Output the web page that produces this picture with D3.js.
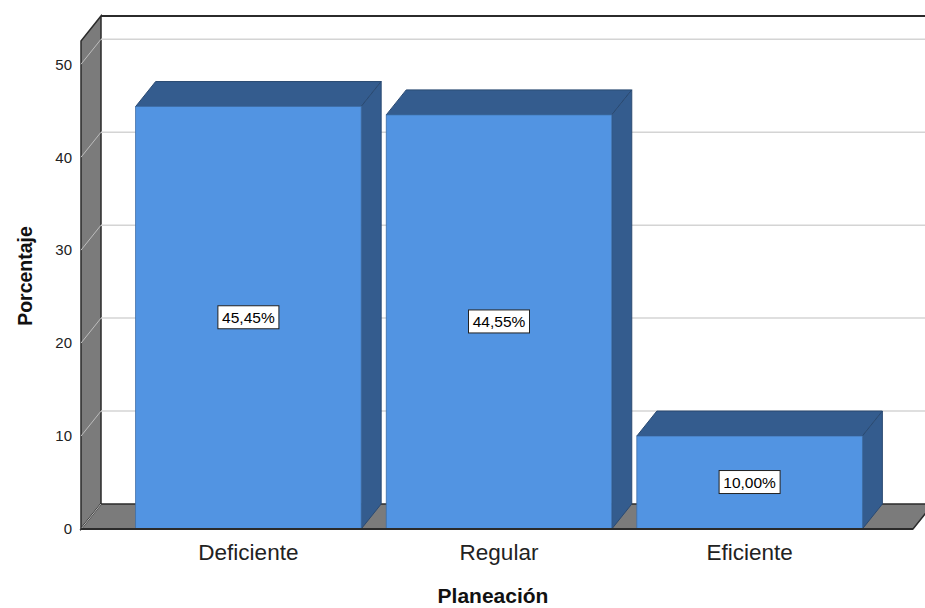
<!DOCTYPE html>
<html lang="es">
<head>
<meta charset="UTF-8">
<title>Planeación</title>
<style>
    body { margin: 0; background: #fff; font-family: Arial, "Liberation Sans", sans-serif; }
    svg { display: block; }
</style>
</head>
<body>
<svg width="925" height="608"></svg>
<script src="https://d3js.org/d3.v7.min.js"></script>
<script>
    const categories = ["Deficiente", "Regular", "Eficiente"];
    const values = [45.45, 44.55, 10.00];
    const valueLabels = ["45,45%", "44,55%", "10,00%"];
    const yTicks = [0, 10, 20, 30, 40, 50];

    const svg = d3.select("svg");
    const dx = 20, dy = -25;   // profundidad 3D

    const x = d3.scaleBand().domain(categories).range([83, 915])
        .paddingInner(0.1).paddingOuter(0.21);
    const y = d3.scaleLinear().domain([0, 52.5]).range([529, 41]);

    const x0 = 81, x1 = 913;
    const y0 = y(0), yTop = y(52.5);
    const wallFill = "#7b7b7b", edge = "#2b2b2b";

    // pared del fondo: borde superior
    svg.append("line")
        .attr("x1", x0 + dx).attr("y1", yTop + dy).attr("x2", 925).attr("y2", yTop + dy)
        .attr("stroke", edge).attr("stroke-width", 2);

    // pared izquierda
    svg.append("path")
        .attr("d", `M${x0},${y0}L${x0},${yTop}L${x0 + dx},${yTop + dy}L${x0 + dx},${y0 + dy}Z`)
        .attr("fill", wallFill).attr("stroke", edge).attr("stroke-width", 1.5);

    // piso
    svg.append("path")
        .attr("d", `M${x0},${y0}L${x1},${y0}L${x1 + dx},${y0 + dy}L${x0 + dx},${y0 + dy}Z`)
        .attr("fill", wallFill).attr("stroke", edge).attr("stroke-width", 1.5);

    // líneas de cuadrícula
    const grid = svg.append("g");
    yTicks.filter(d => d > 0).forEach(d => {
        grid.append("line")
            .attr("x1", x0 + dx).attr("y1", y(d) + dy).attr("x2", 925).attr("y2", y(d) + dy)
            .attr("stroke", "#d4d4d4").attr("stroke-width", 1.5);
        grid.append("line")
            .attr("x1", x0).attr("y1", y(d)).attr("x2", x0 + dx).attr("y2", y(d) + dy)
            .attr("stroke", "#bdbdbd").attr("stroke-width", 1);
    });
    svg.append("line")
        .attr("x1", x0).attr("y1", y0).attr("x2", x0 + dx).attr("y2", y0 + dy)
        .attr("stroke", "#bdbdbd").attr("stroke-width", 1);

    // eje y
    const gY = svg.append("g")
        .attr("transform", `translate(${x0},0)`)
        .call(d3.axisLeft(y).tickValues(yTicks).tickSize(0).tickPadding(9));
    gY.select(".domain").remove();
    gY.selectAll("text").attr("font-size", 15).attr("font-family", "Arial").attr("fill", "#222");

    // barras
    const bars = svg.append("g").selectAll("g").data(categories).join("g");
    const bw = x.bandwidth();
    bars.append("path")
        .attr("d", (c, i) => {
            const l = x(c), t = y(values[i]);
            return `M${l},${t}L${l + dx},${t + dy}L${l + bw + dx},${t + dy}L${l + bw},${t}Z`;
        })
        .attr("fill", "#345c8e").attr("stroke", "#2a4a72").attr("stroke-width", 1);
    bars.append("path")
        .attr("d", (c, i) => {
            const r = x(c) + bw, t = y(values[i]);
            return `M${r},${t}L${r + dx},${t + dy}L${r + dx},${y0 + dy}L${r},${y0}Z`;
        })
        .attr("fill", "#345c8e").attr("stroke", "#2a4a72").attr("stroke-width", 1);
    bars.append("rect")
        .attr("x", c => x(c)).attr("y", (c, i) => y(values[i]))
        .attr("width", bw).attr("height", (c, i) => y0 - y(values[i]))
        .attr("fill", "#5294e2").attr("stroke", "#3f6fa8").attr("stroke-width", 0.8);

    // base frontal
    svg.append("line")
        .attr("x1", x0).attr("y1", y0).attr("x2", x1).attr("y2", y0)
        .attr("stroke", edge).attr("stroke-width", 2);

    // etiquetas de valor
    const lab = bars.append("g")
        .attr("transform", (c, i) => `translate(${x(c) + bw / 2},${y(values[i] / 2)})`);
    lab.append("rect")
        .attr("x", -30.5).attr("y", -12).attr("width", 61).attr("height", 23)
        .attr("fill", "#fff").attr("stroke", "#222").attr("stroke-width", 1);
    lab.append("text")
        .attr("text-anchor", "middle").attr("dy", "0.33em")
        .attr("font-size", 15.5).attr("fill", "#000")
        .text((c, i) => valueLabels[i]);

    // eje x: categorías
    svg.append("g").selectAll("text").data(categories).join("text")
        .attr("x", c => x(c) + bw / 2).attr("y", 560)
        .attr("text-anchor", "middle").attr("font-size", 22.5).attr("fill", "#222")
        .text(c => c);

    // títulos
    svg.append("text")
        .attr("x", 493).attr("y", 603).attr("text-anchor", "middle")
        .attr("font-size", 21).attr("font-weight", "bold").attr("fill", "#111")
        .text("Planeación");
    svg.append("text")
        .attr("transform", "translate(32,276) rotate(-90)").attr("text-anchor", "middle")
        .attr("font-size", 19.5).attr("font-weight", "bold").attr("fill", "#111")
        .text("Porcentaje");
</script>
</body>
</html>
